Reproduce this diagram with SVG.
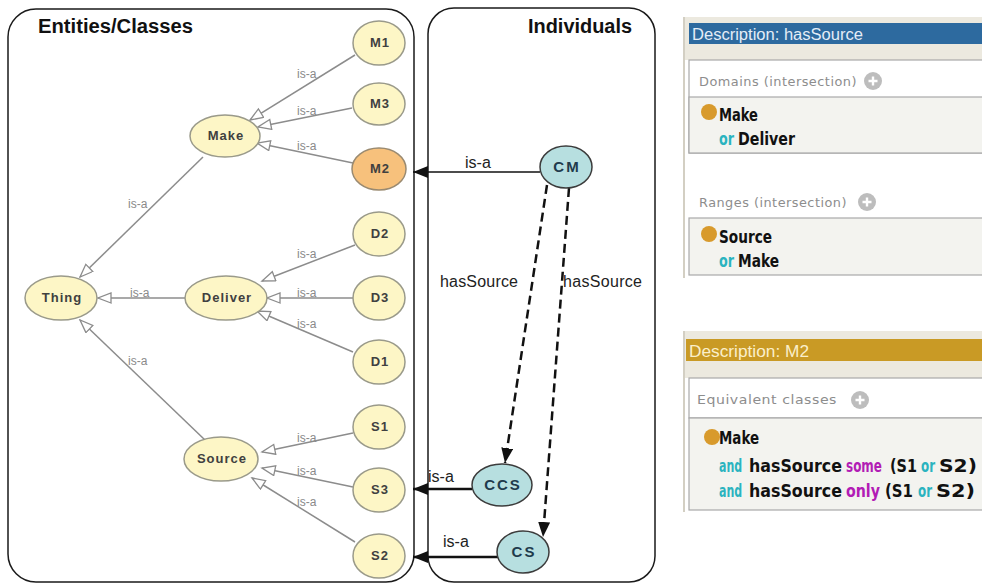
<svg xmlns="http://www.w3.org/2000/svg" width="982" height="583" viewBox="0 0 982 583">
  <style>
    .panel { fill: #ffffff; stroke: #1a1a1a; stroke-width: 1.5; }
    .title { font-family: "Liberation Sans", Arial, sans-serif; font-weight: bold; font-size: 20px; fill: #111; }
    .cls { fill: #fdf6c6; stroke: #9a9a8a; stroke-width: 1.5; }
    .cls-sel { fill: #f7c17c; stroke: #9a8a70; stroke-width: 1.5; }
    .clabel { font-family: "Liberation Sans", Arial, sans-serif; font-weight: bold; font-size: 13px; letter-spacing: 1px; fill: #404040; text-anchor: middle; }
    .ind { fill: #b7dfe0; stroke: #3c3c3c; stroke-width: 1.5; }
    .ilabel { font-family: "Liberation Sans", Arial, sans-serif; font-weight: bold; font-size: 15px; letter-spacing: 2px; fill: #1f3b4c; text-anchor: middle; }
    .sub { stroke: #8c8c8c; stroke-width: 1.5; fill: none; marker-end: url(#hollow); }
    .elabel { font-family: "Liberation Sans", Arial, sans-serif; font-size: 12px; fill: #8a8a8a; }
    .inst { stroke: #111; fill: none; marker-end: url(#solid); }
    .rel { stroke: #111; stroke-width: 2.5; fill: none; stroke-dasharray: 9 5; marker-end: url(#solid); }
    .rlabel { font-family: "Liberation Sans", Arial, sans-serif; font-size: 16px; fill: #222; }
    .hdr { font-family: "Liberation Sans", Arial, sans-serif; font-size: 16px; }
    .sec { font-family: "DejaVu Sans", "Liberation Sans", sans-serif; font-size: 13px; fill: #8d8d8d; letter-spacing: 0.5px; }
    .kw { font-family: "Liberation Sans Narrow", "DejaVu Sans Condensed", "DejaVu Sans", sans-serif; font-stretch: condensed; font-weight: bold; font-size: 18px; fill: #111; }
    .teal { fill: #2bb3bf; }
    .mag { fill: #b21cb5; }
    .box { fill: #f3f3ef; stroke: #a9a9a9; stroke-width: 1.2; }
    .boxw { fill: #ffffff; stroke: #a9a9a9; stroke-width: 1.2; }
    .edge { stroke: #d3cfc3; stroke-width: 2; }
    .beige { fill: #ece9df; }
  </style>
  <defs>
    <marker id="hollow" markerUnits="userSpaceOnUse" markerWidth="16" markerHeight="12" refX="14" refY="5.5" orient="auto">
      <path d="M1,0.5 L14,5.5 L1,10.5 z" fill="#ffffff" stroke="#8c8c8c" stroke-width="1.3"/>
    </marker>
    <marker id="solid" markerUnits="userSpaceOnUse" markerWidth="16" markerHeight="12" refX="15" refY="6" orient="auto">
      <path d="M0,0 L15,6 L0,12 z" fill="#111"/>
    </marker>
    <g id="plus">
      <circle r="9" fill="#bdbdbd"/>
      <path d="M-4.5,0 H4.5 M0,-4.5 V4.5" stroke="#ffffff" stroke-width="2.4"/>
    </g>
  </defs>

  <rect width="982" height="583" fill="#ffffff"/>

  <!-- Panels -->
  <rect id="classes-panel" class="panel" x="8" y="9" width="406" height="573" rx="28" ry="28"/>
  <rect id="individuals-panel" class="panel" x="428" y="8" width="227" height="574" rx="26" ry="26"/>
  <text class="title" x="38" y="33" textLength="155" lengthAdjust="spacingAndGlyphs">Entities/Classes</text>
  <text class="title" x="528" y="33" textLength="104" lengthAdjust="spacingAndGlyphs">Individuals</text>

  <!-- Connectors -->
  <g id="connectors">
    <line class="sub" x1="355" y1="55" x2="250" y2="120"/>
    <line class="sub" x1="352" y1="108" x2="258" y2="127"/>
    <line class="sub" x1="353" y1="163" x2="257" y2="143"/>
    <line class="sub" x1="203" y1="157" x2="80" y2="277"/>
    <line class="sub" x1="355" y1="245" x2="262" y2="281"/>
    <line class="sub" x1="353" y1="298" x2="267" y2="298"/>
    <line class="sub" x1="185" y1="298" x2="98" y2="298"/>
    <line class="sub" x1="353" y1="352" x2="257" y2="311"/>
    <line class="sub" x1="205" y1="440" x2="80" y2="320"/>
    <line class="sub" x1="353" y1="433" x2="262" y2="452"/>
    <line class="sub" x1="353" y1="487" x2="262" y2="468"/>
    <line class="sub" x1="355" y1="542" x2="252" y2="478"/>

    <text class="elabel" x="297" y="78">is-a</text>
    <text class="elabel" x="297" y="115">is-a</text>
    <text class="elabel" x="297" y="150">is-a</text>
    <text class="elabel" x="128" y="208">is-a</text>
    <text class="elabel" x="297" y="258">is-a</text>
    <text class="elabel" x="297" y="297">is-a</text>
    <text class="elabel" x="130" y="297">is-a</text>
    <text class="elabel" x="297" y="328">is-a</text>
    <text class="elabel" x="128" y="365">is-a</text>
    <text class="elabel" x="297" y="442">is-a</text>
    <text class="elabel" x="297" y="475">is-a</text>
    <text class="elabel" x="297" y="506">is-a</text>

    <line class="inst" stroke-width="1.5" x1="540" y1="172" x2="413" y2="172"/>
    <line class="inst" stroke-width="2.6" x1="472" y1="489" x2="413" y2="489"/>
    <line class="inst" stroke-width="2.6" x1="498" y1="557" x2="413" y2="557"/>
    <text class="rlabel" x="465" y="168">is-a</text>
    <text class="rlabel" x="428" y="482">is-a</text>
    <text class="rlabel" x="443" y="547">is-a</text>

    <line class="rel" x1="547" y1="185" x2="505" y2="463"/>
    <line class="rel" x1="569" y1="188" x2="543" y2="537"/>
    <text class="rlabel" x="440" y="287" textLength="78">hasSource</text>
    <text class="rlabel" x="563" y="287" textLength="79">hasSource</text>
  </g>

  <!-- Class hierarchy -->
  <g id="node-M1"><ellipse class="cls" cx="379" cy="43" rx="26" ry="22"/><text class="clabel" x="380" y="47">M1</text></g>
  <g id="node-M3"><ellipse class="cls" cx="379" cy="104" rx="26" ry="21"/><text class="clabel" x="380" y="108">M3</text></g>
  <g id="node-M2"><ellipse class="cls-sel" cx="379" cy="169" rx="27" ry="21"/><text class="clabel" x="380" y="173">M2</text></g>
  <g id="node-D2"><ellipse class="cls" cx="379" cy="234" rx="26" ry="22"/><text class="clabel" x="380" y="238">D2</text></g>
  <g id="node-D3"><ellipse class="cls" cx="379" cy="298" rx="26" ry="22"/><text class="clabel" x="380" y="302">D3</text></g>
  <g id="node-D1"><ellipse class="cls" cx="379" cy="362" rx="26" ry="22"/><text class="clabel" x="380" y="366">D1</text></g>
  <g id="node-S1"><ellipse class="cls" cx="379" cy="427" rx="26" ry="22"/><text class="clabel" x="380" y="431">S1</text></g>
  <g id="node-S3"><ellipse class="cls" cx="379" cy="490" rx="26" ry="22"/><text class="clabel" x="380" y="494">S3</text></g>
  <g id="node-S2"><ellipse class="cls" cx="379" cy="556" rx="26" ry="22"/><text class="clabel" x="380" y="560">S2</text></g>
  <g id="node-Make"><ellipse class="cls" cx="225" cy="136" rx="35" ry="21"/><text class="clabel" x="226" y="140">Make</text></g>
  <g id="node-Deliver"><ellipse class="cls" cx="226" cy="298" rx="41" ry="22"/><text class="clabel" x="227" y="302">Deliver</text></g>
  <g id="node-Thing"><ellipse class="cls" cx="61" cy="298" rx="36" ry="22"/><text class="clabel" x="62" y="302">Thing</text></g>
  <g id="node-Source"><ellipse class="cls" cx="221" cy="459" rx="37" ry="22"/><text class="clabel" x="222" y="463">Source</text></g>

  <!-- Individuals -->
  <g id="node-CM"><ellipse class="ind" cx="566" cy="167" rx="26" ry="21"/><text class="ilabel" x="567" y="172">CM</text></g>
  <g id="node-CCS"><ellipse class="ind" cx="502" cy="485" rx="30" ry="21"/><text class="ilabel" x="503" y="490">CCS</text></g>
  <g id="node-CS"><ellipse class="ind" cx="523" cy="552" rx="26" ry="21"/><text class="ilabel" x="524" y="557">CS</text></g>

  <!-- Property description: hasSource -->
  <g id="desc-hasSource">
    <rect class="beige" x="684" y="17" width="298" height="43"/>
    <rect x="689" y="23" width="293" height="21" fill="#2d6a9f"/>
    <text class="hdr" x="692" y="40" fill="#e4edf7" textLength="171" lengthAdjust="spacingAndGlyphs">Description: hasSource</text>
    <line class="edge" x1="684" y1="17" x2="684" y2="278"/>
    <rect class="boxw" x="689" y="60" width="300" height="93"/>
    <rect class="box" x="689" y="97" width="300" height="56"/>
    <text class="sec" x="699" y="86" textLength="158" lengthAdjust="spacingAndGlyphs">Domains (intersection)</text>
    <use href="#plus" x="873" y="81"/>
    <circle cx="709" cy="112" r="8" fill="#d89a2c"/>
    <text class="kw" x="719" y="121" textLength="39" lengthAdjust="spacingAndGlyphs">Make</text>
    <text class="kw teal" x="719" y="145" textLength="15" lengthAdjust="spacingAndGlyphs">or</text>
    <text class="kw" x="738" y="145" textLength="57" lengthAdjust="spacingAndGlyphs">Deliver</text>
    <text class="sec" x="699" y="207" textLength="148" lengthAdjust="spacingAndGlyphs">Ranges (intersection)</text>
    <use href="#plus" x="867" y="202"/>
    <rect class="box" x="689" y="218" width="300" height="57"/>
    <circle cx="709" cy="234" r="8" fill="#d89a2c"/>
    <text class="kw" x="719" y="243" textLength="53" lengthAdjust="spacingAndGlyphs">Source</text>
    <text class="kw teal" x="719" y="267" textLength="15" lengthAdjust="spacingAndGlyphs">or</text>
    <text class="kw" x="738" y="267" textLength="41" lengthAdjust="spacingAndGlyphs">Make</text>
  </g>

  <!-- Class description: M2 -->
  <g id="desc-M2">
    <rect class="beige" x="684" y="331" width="298" height="47"/>
    <rect x="686" y="339" width="296" height="22" fill="#c99a25"/>
    <text class="hdr" x="689" y="357" fill="#fbefca" textLength="120" lengthAdjust="spacingAndGlyphs">Description: M2</text>
    <line class="edge" x1="684" y1="331" x2="684" y2="512"/>
    <rect class="boxw" x="689" y="378" width="300" height="40"/>
    <rect class="box" x="689" y="418" width="300" height="92"/>
    <text class="sec" x="697" y="404" textLength="140" lengthAdjust="spacingAndGlyphs">Equivalent classes</text>
    <use href="#plus" x="860" y="400"/>
    <circle cx="712" cy="437" r="8" fill="#d89a2c"/>
    <text class="kw" x="719" y="444" textLength="40" lengthAdjust="spacingAndGlyphs">Make</text>

    <!-- narrow words are squeezed horizontally to the row's spacing -->
    <text class="kw teal" transform="translate(719,472) scale(0.68,1)">and</text>
    <text class="kw" x="749" y="472" textLength="93" lengthAdjust="spacingAndGlyphs">hasSource</text>
    <text class="kw mag" transform="translate(846,472) scale(0.74,1)">some</text>
    <text class="kw" x="890" y="472" textLength="27" lengthAdjust="spacingAndGlyphs">(S1</text>
    <text class="kw teal" x="921" y="472" textLength="14" lengthAdjust="spacingAndGlyphs">or</text>
    <text class="kw" x="939" y="472" textLength="38" lengthAdjust="spacingAndGlyphs">S2)</text>

    <text class="kw teal" transform="translate(719,497) scale(0.68,1)">and</text>
    <text class="kw" x="749" y="497" textLength="93" lengthAdjust="spacingAndGlyphs">hasSource</text>
    <text class="kw mag" x="846" y="497" textLength="34" lengthAdjust="spacingAndGlyphs">only</text>
    <text class="kw" x="885" y="497" textLength="28" lengthAdjust="spacingAndGlyphs">(S1</text>
    <text class="kw teal" x="918" y="497" textLength="14" lengthAdjust="spacingAndGlyphs">or</text>
    <text class="kw" x="936" y="497" textLength="39" lengthAdjust="spacingAndGlyphs">S2)</text>
  </g>
</svg>
